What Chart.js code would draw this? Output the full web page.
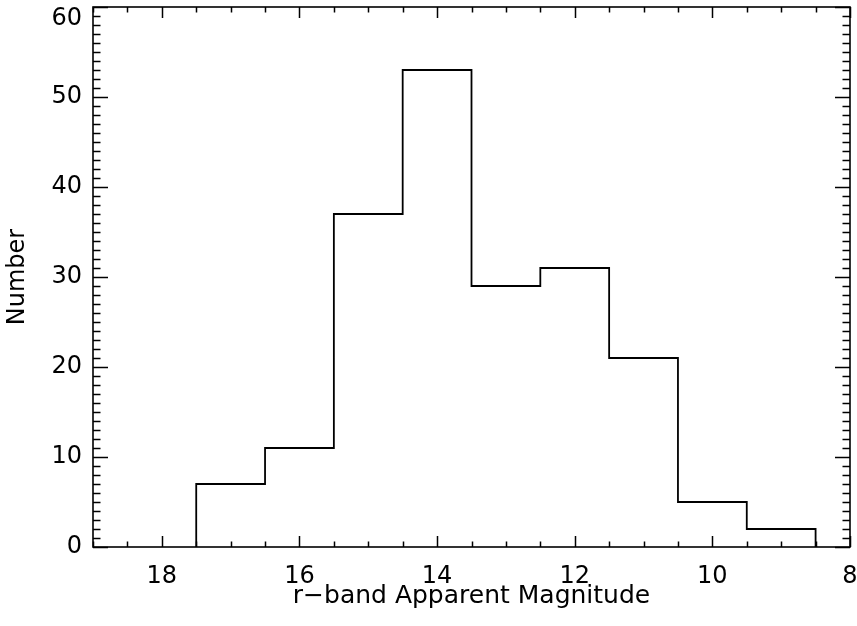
<!DOCTYPE html>
<html>
<head>
<meta charset="utf-8">
<script src="https://cdn.jsdelivr.net/npm/chart.js@4/dist/chart.umd.min.js"></script>
<style>
  html, body { margin: 0; padding: 0; background: #ffffff; }
  #wrap { width: 857px; height: 626px; }
</style>
</head>
<body>
<div id="wrap"><canvas id="hist"></canvas></div>
<script>
// Histogram of r-band apparent magnitudes, one-magnitude bins
const binEdges = [17.5, 16.5, 15.5, 14.5, 13.5, 12.5, 11.5, 10.5, 9.5, 8.5];
const counts   = [7, 11, 37, 53, 29, 31, 21, 5, 2];
const xTicks   = [18, 16, 14, 12, 10, 8];
const yTicks   = [0, 10, 20, 30, 40, 50, 60];

// Outline of the histogram as a stepped path
const outline = [{ x: binEdges[0], y: 0 }];
counts.forEach((c, i) => outline.push({ x: binEdges[i], y: c }));
outline.push({ x: binEdges[binEdges.length - 1], y: counts[counts.length - 1] });
outline.push({ x: binEdges[binEdges.length - 1], y: 0 });

const FONT = 'DejaVu Sans';
const Y_TOP = yTicks[yTicks.length - 1];

// Inward ticks on all four sides, major and minor; the top y label is
// nudged down so it stays inside the canvas
const inwardTicks = {
  id: 'inwardTicks',
  afterDraw(chart) {
    const { ctx, chartArea: a, scales: { x, y } } = chart;
    ctx.save();
    ctx.strokeStyle = '#000';
    ctx.lineWidth = 1.5;
    ctx.beginPath();
    for (let v = 8; v <= 19.0001; v += 0.5) {
      const px = Math.round(x.getPixelForValue(v)) + 0.5;
      const major = Math.abs(v / 2 - Math.round(v / 2)) < 1e-6;
      const len = major ? 11 : 5.5;
      ctx.moveTo(px, a.bottom); ctx.lineTo(px, a.bottom - len);
      ctx.moveTo(px, a.top);    ctx.lineTo(px, a.top + len);
    }
    for (let v = 0; v <= 60; v += 1) {
      const py = Math.round(y.getPixelForValue(v)) + 0.5;
      const len = v % 10 === 0 ? 15 : 7.5;
      ctx.moveTo(a.left, py);  ctx.lineTo(a.left + len, py);
      ctx.moveTo(a.right, py); ctx.lineTo(a.right - len, py);
    }
    ctx.stroke();
    ctx.lineWidth = 1.6;
    ctx.strokeRect(a.left, a.top, a.right - a.left, a.bottom - a.top);

    ctx.fillStyle = '#000';
    ctx.font = '24px "' + FONT + '"';
    ctx.textAlign = 'right';
    ctx.textBaseline = 'middle';
    ctx.fillText(String(Y_TOP), a.left - 11, y.getPixelForValue(Y_TOP) + 12);
    ctx.restore();
  }
};

new Chart(document.getElementById('hist'), {
  type: 'line',
  data: {
    datasets: [{
      data: outline,
      stepped: 'before',
      borderColor: '#000',
      borderWidth: 1.8,
      pointRadius: 0,
      fill: false
    }]
  },
  options: {
    responsive: true,
    maintainAspectRatio: false,
    animation: false,
    plugins: { legend: { display: false }, tooltip: { enabled: false } },
    layout: { padding: { top: 7, right: 7, left: 0, bottom: 0 } },
    scales: {
      x: {
        type: 'linear',
        reverse: true,
        min: 8,
        max: 19,
        afterFit(s) { s.height = 79; s.paddingLeft = 0; s.paddingRight = 0; },
        afterBuildTicks(s) { s.ticks = xTicks.map(v => ({ value: v })); },
        grid: { display: false, drawTicks: false },
        border: { display: false },
        ticks: {
          color: '#000',
          font: { family: FONT, size: 24 },
          padding: 15,
          maxRotation: 0,
          autoSkip: false
        },
        title: {
          display: true,
          text: 'r\u2212band Apparent Magnitude',
          color: '#000',
          font: { family: FONT, size: 25 },
          padding: { top: 0, bottom: 15 }
        }
      },
      y: {
        min: 0,
        max: Y_TOP,
        afterFit(s) { s.width = 93; s.paddingTop = 0; s.paddingBottom = 0; },
        afterBuildTicks(s) { s.ticks = yTicks.map(v => ({ value: v })); },
        grid: { display: false, drawTicks: false },
        border: { display: false },
        ticks: {
          color: '#000',
          font: { family: FONT, size: 24 },
          padding: 11,
          callback: v => (v === Y_TOP ? '' : String(v))
        },
        title: {
          display: true,
          text: 'Number',
          color: '#000',
          font: { family: FONT, size: 24 },
          padding: { top: 3, bottom: 0 }
        }
      }
    }
  },
  plugins: [inwardTicks]
});
</script>
</body>
</html>
